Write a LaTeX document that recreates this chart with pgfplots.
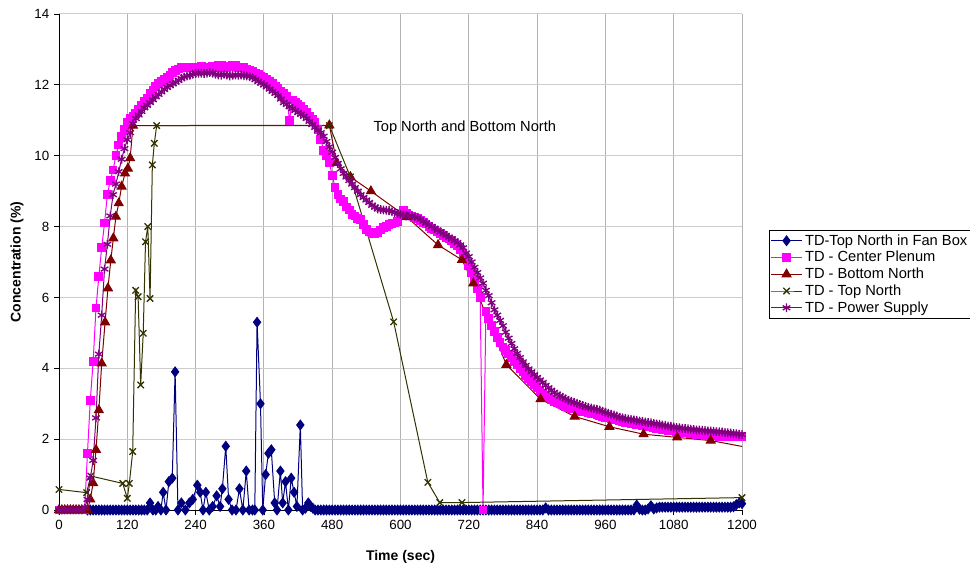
\documentclass[border=0pt]{standalone}
\usepackage{pgfplots}
\usepackage{pgfplotstable}
\pgfplotsset{compat=1.18}
\usepackage{fontspec}
\setmainfont{Liberation Sans}
\definecolor{cnavy}{HTML}{000080}
\definecolor{cmag}{HTML}{FF00FF}
\definecolor{cdred}{HTML}{800000}
\definecolor{colive}{HTML}{333300}
\definecolor{cpurp}{HTML}{800080}

\pgfplotstableread{
t cp ps
0 0 0
5 0 0
10 0 0
15 0 0
20 0 0
25 0 0
30 0 0
35 0 0
40 0 0
45 0 0.05
50 1.6 0.3
55 3.1 0.9
60 4.2 1.4
65 5.7 2.6
70 6.6 4.4
75 7.4 5.5
80 8.1 6.8
85 8.9 7.5
90 9.3 8.3
95 9.6 8.9
100 10.0 9.2
105 10.3 9.55
110 10.55 9.9
115 10.75 10.2
120 10.95 10.45
125 11.05 10.65
130 11.12 10.9
135 11.2 11.05
140 11.3 11.15
145 11.42 11.25
150 11.52 11.35
155 11.62 11.42
160 11.75 11.5
165 11.85 11.58
170 11.95 11.66
175 12.03 11.73
180 12.1 11.8
185 12.15 11.87
190 12.2 11.93
195 12.28 11.98
200 12.35 12.03
205 12.4 12.08
210 12.45 12.13
215 12.48 12.18
220 12.5 12.22
225 12.5 12.25
230 12.5 12.27
235 12.48 12.3
240 12.5 12.32
245 12.5 12.33
250 12.52 12.33
255 12.5 12.32
260 12.48 12.33
265 12.5 12.35
270 12.52 12.33
275 12.5 12.3
280 12.55 12.28
285 12.55 12.27
290 12.5 12.3
295 12.5 12.28
300 12.52 12.25
305 12.55 12.27
310 12.55 12.28
315 12.5 12.27
320 12.48 12.28
325 12.5 12.26
330 12.45 12.25
335 12.4 12.23
340 12.37 12.2
345 12.33 12.15
350 12.3 12.1
355 12.25 12.05
360 12.2 12.0
365 12.15 11.95
370 12.1 11.88
375 12.03 11.82
380 11.97 11.76
385 11.9 11.7
390 11.83 11.6
395 11.75 11.5
400 11.68 11.45
405 11.0 11.38
410 11.57 11.33
415 11.5 11.28
420 11.45 11.22
425 11.38 11.17
430 11.3 11.12
435 11.22 11.05
440 11.12 10.97
445 11.02 10.88
450 10.95 10.8
455 10.75 10.72
460 10.45 10.65
465 10.15 10.55
470 10.0 10.4
475 9.8 10.25
480 9.45 10.1
485 9.1 9.95
490 8.9 9.78
495 8.78 9.63
500 8.7 9.5
505 8.55 9.4
510 8.47 9.3
515 8.35 9.2
520 8.3 9.1
525 8.22 9.0
530 8.2 8.9
535 8.05 8.82
540 7.92 8.75
545 7.85 8.68
550 7.8 8.6
555 7.8 8.55
560 7.83 8.5
565 7.9 8.48
570 7.97 8.47
575 8.0 8.46
580 8.05 8.45
585 8.08 8.42
590 8.1 8.4
595 8.15 8.37
600 8.3 8.35
605 8.45 8.32
610 8.38 8.3
615 8.33 8.3
620 8.3 8.3
625 8.25 8.27
630 8.22 8.25
635 8.17 8.2
640 8.12 8.15
645 8.07 8.1
650 8.0 8.05
655 7.95 8.0
660 7.9 7.95
665 7.85 7.9
670 7.8 7.85
675 7.75 7.8
680 7.7 7.75
685 7.65 7.7
690 7.6 7.65
695 7.52 7.6
700 7.45 7.55
705 7.35 7.48
710 7.25 7.4
715 7.1 7.25
720 6.9 7.15
725 6.7 7.0
730 6.5 6.85
735 6.25 6.7
740 6.0 6.55
745 0 6.4
750 5.6 6.2
755 5.4 6.05
760 5.2 5.85
765 5.03 5.65
770 4.87 5.5
775 4.73 5.35
780 4.6 5.2
785 4.5 5.02
790 4.4 4.85
795 4.3 4.7
800 4.2 4.55
805 4.1 4.42
810 4.0 4.3
815 3.9 4.18
820 3.8 4.08
825 3.72 3.98
830 3.63 3.9
835 3.55 3.82
840 3.45 3.74
845 3.37 3.67
850 3.3 3.6
855 3.23 3.52
860 3.17 3.45
865 3.12 3.38
870 3.07 3.32
875 3.03 3.27
880 3.0 3.22
885 2.97 3.18
890 2.93 3.14
895 2.9 3.1
900 2.87 3.07
905 2.85 3.04
910 2.83 3.01
915 2.81 2.98
920 2.79 2.95
925 2.77 2.92
930 2.75 2.9
935 2.73 2.88
940 2.71 2.86
945 2.69 2.84
950 2.66 2.82
955 2.64 2.79
960 2.62 2.76
965 2.6 2.73
970 2.58 2.7
975 2.56 2.68
980 2.54 2.65
985 2.52 2.62
990 2.5 2.6
995 2.48 2.58
1000 2.46 2.57
1005 2.45 2.56
1010 2.44 2.54
1015 2.42 2.53
1020 2.41 2.51
1025 2.39 2.5
1030 2.38 2.48
1035 2.36 2.47
1040 2.34 2.46
1045 2.33 2.44
1050 2.31 2.43
1055 2.3 2.42
1060 2.28 2.4
1065 2.27 2.39
1070 2.25 2.37
1075 2.24 2.36
1080 2.23 2.34
1085 2.21 2.33
1090 2.2 2.32
1095 2.19 2.31
1100 2.18 2.3
1105 2.17 2.29
1110 2.16 2.28
1115 2.15 2.27
1120 2.14 2.26
1125 2.13 2.26
1130 2.12 2.25
1135 2.11 2.24
1140 2.1 2.23
1145 2.1 2.23
1150 2.09 2.22
1155 2.09 2.21
1160 2.08 2.21
1165 2.08 2.2
1170 2.08 2.19
1175 2.07 2.18
1180 2.07 2.17
1185 2.07 2.16
1190 2.07 2.15
1195 2.07 2.14
1200 2.07 2.13
}\cpps

\begin{document}
\begin{tikzpicture}
\begin{axis}[
  at={(0,0)}, anchor=south west,
  scale only axis, width=512.25pt, height=372pt,
  xmin=0, xmax=1200, ymin=0, ymax=14,
  xtick={0,120,...,1200}, ytick={0,2,...,14},
  axis x line*=bottom, axis y line*=left,
  axis line style={-, black, line width=0.6pt},
  every outer x axis line/.append style={-},
  every outer y axis line/.append style={-},
  tick align=outside, major tick length=3.75pt,
  tick style={black, line width=0.6pt},
  xmajorgrids, ymajorgrids,
  x grid style={color=black!30, line width=0.75pt},
  y grid style={color=black!20, line width=0.75pt},
  /pgf/number format/assume math mode=true,
  /pgf/number format/1000 sep={},
  ticklabel style={font=\fontsize{10}{12}\selectfont},
  xlabel={\textbf{Time (sec)}},
  ylabel={\textbf{Concentration (\%)}},
  label style={font=\fontsize{10.5}{12}\selectfont},
  xlabel style={at={(axis description cs:0.5,-0.0948)}, anchor=center},
  ylabel style={at={(axis description cs:-0.0615,0.5)}, anchor=center},
  legend style={at={(1.0395,0.5645)}, anchor=north west, draw=black, line width=0.6pt,
    font=\fontsize{11}{13}\selectfont, inner sep=1pt, row sep=-0.9pt},
  legend cell align=left,
  legend image code/.code={\draw[mark repeat=2,mark phase=2,#1] plot coordinates {(0pt,0pt) (11.5pt,0pt) (23pt,0pt)};},
  every axis plot/.append style={line width=0.75pt},
]
\addplot[color=cnavy, mark=diamond*, mark size=3.6pt, mark options={solid, fill=cnavy}] coordinates {
(50,0) (55,0) (60,0) (65,0) (70,0) (75,0) (80,0) (85,0) (90,0) (95,0) (100,0) (105,0) (110,0) (115,0) (120,0) (125,0) (130,0) (135,0) (140,0) (145,0) (150,0) (155,0)
(160,0.2) (165,0) (170,0) (174,0.1) (179,0) (183,0.5) (188,0) (193,0.8) (199,0.9) (204,3.9) (209,0) (215,0.2) (222,0) (229,0.2) (235,0.3) (243,0.7) (248,0.5) (253,0) (258,0.5) (264,0) (270,0.1) (277,0.4) (283,0.1) (287,0.6) (293,1.8) (298,0.3) (304,0) (311,0) (317,0.6) (323,0) (329,1.1) (334,0) (340,0) (344,0) (348,5.3) (354,3.0) (358,0) (363,1.0) (368,1.6) (373,1.7) (379,0.2) (383,0) (389,1.1) (393,0.2) (398,0.8) (403,0) (408,0.9) (413,0.5) (418,0.1) (424,2.4) (428,0) (433,0.05) (438,0.2) (442,0.1) (446,0.05)
(450,0) (455,0) (460,0) (465,0) (470,0) (475,0) (480,0) (485,0) (490,0) (495,0) (500,0) (505,0) (510,0) (515,0) (520,0) (525,0) (530,0) (535,0) (540,0) (545,0) (550,0) (555,0) (560,0) (565,0) (570,0) (575,0) (580,0) (585,0) (590,0) (595,0) (600,0) (605,0) (610,0) (615,0) (620,0) (625,0) (630,0) (635,0) (640,0) (645,0) (650,0) (655,0) (660,0) (665,0) (670,0) (675,0) (680,0) (685,0) (690,0) (695,0) (700,0) (705,0) (710,0) (715,0) (720,0) (725,0) (730,0) (735,0) (740,0) (745,0) (750,0) (755,0) (760,0) (765,0) (770,0) (775,0) (780,0) (785,0) (790,0) (795,0) (800,0) (805,0) (810,0) (815,0) (820,0) (825,0) (830,0) (835,0) (840,0) (845,0) (850,0) (855,0.06) (860,0) (865,0) (870,0) (875,0) (880,0) (885,0) (890,0) (895,0) (900,0) (905,0) (910,0) (915,0) (920,0) (925,0) (930,0) (935,0) (940,0) (945,0) (950,0) (955,0) (960,0) (965,0) (970,0) (975,0) (980,0) (985,0) (990,0) (995,0) (1000,0) (1005,0) (1010,0) (1015,0.14) (1020,0.02) (1025,0) (1030,0) (1035,0.03) (1040,0.12) (1045,0.03) (1050,0.06) (1055,0.08) (1060,0.08) (1065,0.08) (1070,0.08) (1075,0.08) (1080,0.08) (1085,0.08) (1090,0.08) (1095,0.08) (1100,0.08) (1105,0.08) (1110,0.08) (1115,0.08) (1120,0.08) (1125,0.08) (1130,0.08) (1135,0.08) (1140,0.08) (1145,0.08) (1150,0.08) (1155,0.08) (1160,0.08) (1165,0.08) (1170,0.08) (1175,0.08) (1180,0.08) (1185,0.09) (1190,0.15) (1195,0.2) (1200,0.18)
};
\addlegendentry{TD-Top North in Fan Box}
\addplot[color=cmag, mark=square*, mark size=2.9pt, mark options={solid, fill=cmag}] table[x=t, y=cp] {\cpps};
\addlegendentry{TD - Center Plenum}
\addplot[color=cdred, mark=triangle*, mark size=3.8pt, mark options={solid, fill=cdred}] coordinates {
(0,0) (5,0) (10,0) (15,0) (20,0) (25,0) (30,0) (35,0) (40,0) (45,0) (50,0)
(55,0.3) (60,0.76) (65,1.7) (70,2.82) (75,4.14) (81,5.3) (86,6.26) (91,7.05) (95.5,7.67) (100,8.28) (105,8.66) (110,9.13) (116,9.5) (121,9.64) (125,9.93) (130,10.85)
(475,10.86) (488,9.8) (512,9.4) (548,9.0) (611,8.27) (666,7.48) (708,7.06) (728,6.4) (786,4.1) (846,3.13) (906,2.64) (967,2.35) (1027,2.14) (1086,2.05) (1145,1.96) (1205,1.78)
};
\addlegendentry{TD - Bottom North}
\addplot[color=colive, mark=x, mark size=3.4pt, mark options={solid, line width=1pt}] coordinates {
(0,0.58) (48.6,0.49) (55.7,0.96) (112,0.75) (120,0.33) (123.6,0.75) (129.5,1.65) (134.7,6.2) (139,6.02) (143.5,3.53) (148,4.99) (152,7.57) (156,8.0) (160,5.97) (164,9.74) (167.5,10.35) (171.6,10.85)
(475,10.85) (512,9.4) (588,5.31) (648,0.78) (669,0.21) (708,0.21) (1200,0.35)
};
\addlegendentry{TD - Top North}
\addplot[color=cpurp, mark=asterisk, mark size=3.3pt, mark options={solid, line width=1pt}] table[x=t, y=ps] {\cpps};
\addlegendentry{TD - Power Supply}
\node[font=\fontsize{11}{13}\selectfont] at (axis cs:713,10.78) {Top North and Bottom North};
\end{axis}
\pgfresetboundingbox
\useasboundingbox (-44.25pt,-41.25pt) rectangle (683.25pt,382.5pt);
\end{tikzpicture}
\end{document}
